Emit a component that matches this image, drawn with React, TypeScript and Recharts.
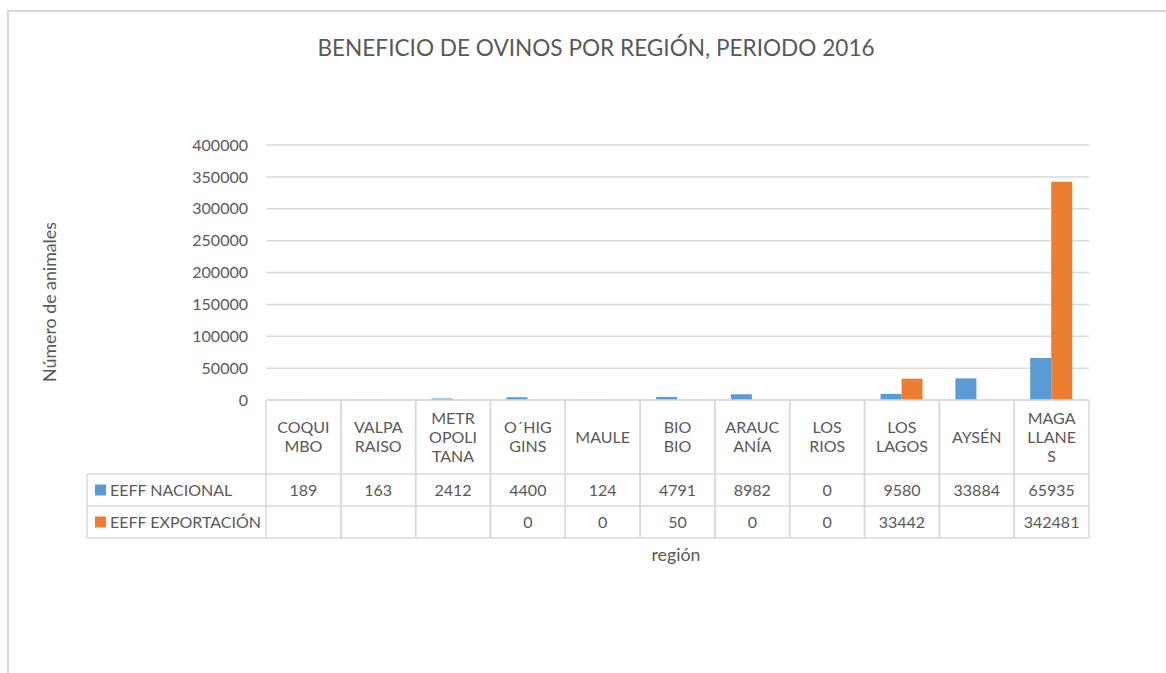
import React from 'react';
import { BarChart, Bar, XAxis, YAxis, CartesianGrid } from 'recharts';

const categories = ['COQUIMBO', 'VALPARAISO', 'METROPOLITANA', 'O´HIGGINS', 'MAULE', 'BIO BIO', 'ARAUCANÍA', 'LOS RIOS', 'LOS LAGOS', 'AYSÉN', 'MAGALLANES'];
const tickLabels = ['COQUI\nMBO', 'VALPA\nRAISO', 'METR\nOPOLI\nTANA', 'O´HIG\nGINS', 'MAULE', 'BIO\nBIO', 'ARAUC\nANÍA', 'LOS\nRIOS', 'LOS\nLAGOS', 'AYSÉN', 'MAGA\nLLANE\nS'];
const nacional: (number | null)[] = [189, 163, 2412, 4400, 124, 4791, 8982, 0, 9580, 33884, 65935];
const exportacion: (number | null)[] = [null, null, null, 0, 0, 50, 0, 0, 33442, null, 342481];
const seriesNames = ['EEFF NACIONAL', 'EEFF EXPORTACIÓN'];
const seriesKeys = ['nacional', 'exportacion'];
const seriesColors = ['#5B9BD5', '#ED7D31'];
const yTicks = [0, 50000, 100000, 150000, 200000, 250000, 300000, 350000, 400000];

const data = categories.map((c, i) => ({
  region: c,
  nacional: nacional[i],
  exportacion: exportacion[i],
}));

const W = 1166;
const H = 673;
const Y_W = 60;
const MARGIN = { top: 145, right: 77, bottom: 133, left: 206 };
const PLOT_W = W - MARGIN.left - MARGIN.right - Y_W;
const CELL = PLOT_W / categories.length;
const HEADER_H = 74;
const ROW_H = 32;
const LEFT_COL_W = 179;
const TEXT = '#595959';
const LINE = '#d9d9d9';
const FONT = 'Lato, sans-serif';

const TableTick = (props: any) => {
  const { x, y, payload } = props;
  const i = payload.index;
  const left = x - CELL / 2;
  const right = x + CELL / 2;
  const lines = tickLabels[i].split('\n');
  const lh = 19;
  const mid = y + HEADER_H / 2;
  const r1 = y + HEADER_H;
  const r2 = r1 + ROW_H;
  const r3 = r2 + ROW_H;
  const values = [nacional[i], exportacion[i]];
  return (
    <g>
      <line x1={left} y1={y} x2={left} y2={r3} stroke={LINE} strokeWidth={1.5} />
      <line x1={right} y1={y} x2={right} y2={r3} stroke={LINE} strokeWidth={1.5} />
      <line x1={left} y1={r1} x2={right} y2={r1} stroke={LINE} strokeWidth={1.5} />
      <line x1={left} y1={r2} x2={right} y2={r2} stroke={LINE} strokeWidth={1.5} />
      <line x1={left} y1={r3} x2={right} y2={r3} stroke={LINE} strokeWidth={1.5} />
      {lines.map((ln, k) => (
        <text
          key={k}
          x={x}
          y={mid + (k - (lines.length - 1) / 2) * lh + 5.5}
          textAnchor="middle"
          fill={TEXT}
          fontSize={16}
          fontFamily={FONT}
        >
          {ln}
        </text>
      ))}
      {values.map((v, k) => (
        <text
          key={'v' + k}
          x={x}
          y={r1 + k * ROW_H + ROW_H / 2 + 5.5}
          textAnchor="middle"
          fill={TEXT}
          fontSize={16}
          fontFamily={FONT}
        >
          {v === null ? '' : String(v)}
        </text>
      ))}
      {i === 0 && (
        <g>
          <line x1={left - LEFT_COL_W} y1={r1} x2={left} y2={r1} stroke={LINE} strokeWidth={1.5} />
          <line x1={left - LEFT_COL_W} y1={r2} x2={left} y2={r2} stroke={LINE} strokeWidth={1.5} />
          <line x1={left - LEFT_COL_W} y1={r3} x2={left} y2={r3} stroke={LINE} strokeWidth={1.5} />
          <line x1={left - LEFT_COL_W} y1={r1} x2={left - LEFT_COL_W} y2={r3} stroke={LINE} strokeWidth={1.5} />
          {seriesNames.map((name, k) => (
            <g key={name}>
              <rect
                x={left - LEFT_COL_W + 8}
                y={r1 + k * ROW_H + ROW_H / 2 - 5.5}
                width={11}
                height={11}
                fill={seriesColors[k]}
              />
              <text
                x={left - LEFT_COL_W + 23}
                y={r1 + k * ROW_H + ROW_H / 2 + 5.5}
                fill={TEXT}
                fontSize={16}
                fontFamily={FONT}
              >
                {name}
              </text>
            </g>
          ))}
        </g>
      )}
    </g>
  );
};

export default function App() {
  return (
    <div style={{ position: 'absolute', left: 0, top: 0, width: W, height: H, background: '#fff', overflow: 'hidden' }}>
      <div
        style={{
          position: 'absolute',
          left: 7,
          top: 10,
          width: W,
          height: H,
          borderLeft: `2px solid ${LINE}`,
          borderTop: `2px solid ${LINE}`,
        }}
      />
      <div style={{ position: 'absolute', left: 0, top: 0 }}>
        <BarChart
          width={W}
          height={H}
          data={data}
          margin={MARGIN}
          barCategoryGap="21.4%"
          barGap={0}
        >
          <CartesianGrid vertical={false} stroke={LINE} strokeWidth={1.5} />
          <XAxis
            dataKey="region"
            interval={0}
            height={140}
            axisLine={{ stroke: LINE, strokeWidth: 1.5 }}
            tickLine={false}
            tickSize={0}
            tickMargin={0}
            tick={<TableTick />}
          />
          <YAxis
            width={Y_W}
            domain={[0, 400000]}
            ticks={yTicks}
            axisLine={false}
            tickLine={false}
            tickSize={0}
            tickMargin={18}
            tick={{ fill: TEXT, fontSize: 16, fontFamily: FONT }}
          />
          {seriesKeys.map((k, idx) => (
            <Bar key={k} dataKey={k} fill={seriesColors[idx]} isAnimationActive={false} />
          ))}
        </BarChart>
      </div>
      <svg width={W} height={H} style={{ position: 'absolute', left: 0, top: 0, pointerEvents: 'none' }}>
        <text x={596} y={56} textAnchor="middle" fill={TEXT} fontSize={22.6} fontFamily={FONT}>
          BENEFICIO DE OVINOS POR REGIÓN, PERIODO 2016
        </text>
        <text
          transform="translate(50,302) rotate(-90)"
          x={0}
          y={5.5}
          textAnchor="middle"
          fill={TEXT}
          fontSize={17.8}
          fontFamily={FONT}
        >
          Número de animales
        </text>
        <text x={676} y={561} textAnchor="middle" fill={TEXT} fontSize={17.8} fontFamily={FONT}>
          región
        </text>
      </svg>
    </div>
  );
}
